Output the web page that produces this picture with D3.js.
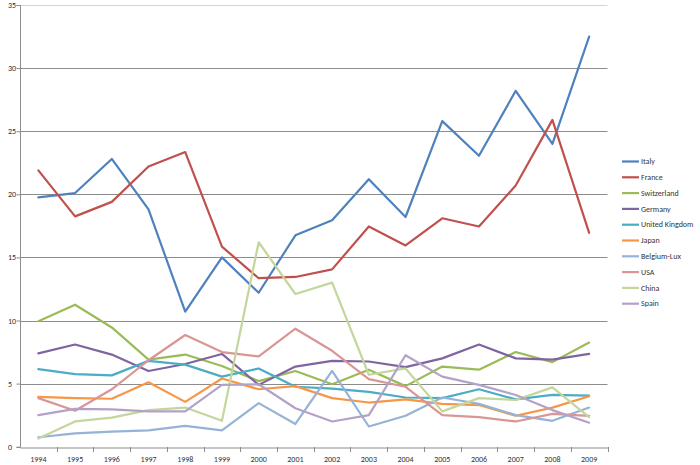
<!DOCTYPE html>
<html><head><meta charset="utf-8">
<script src="https://cdn.jsdelivr.net/npm/d3@7"></script>
<style>body{margin:0;background:#fff}svg{display:block}text{font-family:Carlito,"Liberation Sans Narrow","DejaVu Sans Condensed",sans-serif;font-size:8px;fill:#333}</style>
</head><body><svg id="c" width="700" height="465"></svg>
<script>
const years = ["1994","1995","1996","1997","1998","1999","2000","2001","2002","2003","2004","2005","2006","2007","2008","2009"];
const yTicks = [0,5,10,15,20,25,30,35];
const seriesNames = ["Italy","France","Switzerland","Germany","United Kingdom","Japan","Belgium-Lux","USA","China","Spain"];
const colors = ["#4F81BD","#C0504D","#9BBB59","#8064A2","#4BACC6","#F79646","#95B3D7","#D99694","#C3D69B","#B3A2C7"];
const italy       = [19.75,20.1,22.8,18.8,10.7,15.0,12.2,16.75,17.95,21.2,18.2,25.8,23.05,28.2,24.0,32.5];
const france      = [21.9,18.25,19.4,22.2,23.35,15.85,13.35,13.45,14.05,17.45,15.95,18.1,17.45,20.7,25.9,16.95];
const switzerland = [9.95,11.25,9.45,6.9,7.3,6.4,5.2,6.0,4.95,6.1,4.8,6.35,6.1,7.5,6.7,8.25];
const germany     = [7.4,8.1,7.3,6.0,6.55,7.35,4.9,6.35,6.8,6.75,6.3,7.0,8.1,7.0,6.9,7.35];
const uk          = [6.15,5.75,5.65,6.8,6.5,5.55,6.2,4.75,4.6,4.35,3.9,3.85,4.55,3.75,4.1,4.05];
const japan       = [3.95,3.85,3.8,5.1,3.55,5.4,4.55,4.8,3.85,3.5,3.75,3.4,3.3,2.45,3.1,4.0];
const belgium     = [0.75,1.05,1.2,1.3,1.65,1.3,3.45,1.8,6.0,1.6,2.45,3.9,3.4,2.5,2.05,3.1];
const usa         = [3.85,2.85,4.55,6.85,8.85,7.5,7.15,9.35,7.6,5.35,4.75,2.5,2.35,2.0,2.6,2.45];
const china       = [0.65,2.0,2.3,2.9,3.1,2.05,16.2,12.1,13.0,5.7,6.2,2.8,3.85,3.7,4.7,2.35];
const spain       = [2.5,3.0,2.95,2.8,2.8,4.9,4.95,3.05,2.0,2.5,7.25,5.55,4.9,4.1,2.9,1.9];
const allSeries = [italy,france,switzerland,germany,uk,japan,belgium,usa,china,spain];

const svg = d3.select("#c");
const x = d3.scaleBand().domain(years).range([20,607.5]);
const y = d3.scaleLinear().domain([0,35]).range([446.7,5]);

// gridlines
svg.append("g").selectAll("line").data(yTicks.filter(t=>t>0)).join("line")
  .attr("x1",20).attr("x2",607.5)
  .attr("y1",d=>Math.round(y(d))+0.5).attr("y2",d=>Math.round(y(d))+0.5)
  .attr("stroke",d=>d===35?"#d4d4d4":"#8c8c8c").attr("stroke-width",1);

// y axis
const ya = svg.append("g").attr("transform","translate(20.5,0)")
  .call(d3.axisLeft(y).tickValues(yTicks).tickSize(4).tickPadding(3));
ya.select(".domain").attr("stroke","#8c8c8c").attr("d","M-4,"+(Math.round(y(35))+0.5)+"H0V"+(Math.round(y(0))+0.5)+"H-4");
ya.selectAll(".tick line").attr("stroke","#8c8c8c");
ya.selectAll(".tick text").attr("text-anchor","start").attr("x",-12.5).style("font-family",null).style("font-size",null).attr("fill","#333");
ya.attr("font-family",null).attr("font-size",null);

// x axis
const xa = svg.append("g").attr("transform","translate(0,"+(Math.round(y(0))+0.5)+")")
  .call(d3.axisBottom(x).tickSize(0).tickPadding(9));
xa.select(".domain").attr("stroke","#8c8c8c");
xa.attr("font-family",null).attr("font-size",null);
xa.selectAll(".tick text").attr("fill","#333");
svg.append("g").selectAll("line").data(years.slice(1).concat(["end"])).join("line")
  .attr("x1",(d,i)=>Math.round(20+x.bandwidth()*(i+1))+0.5)
  .attr("x2",(d,i)=>Math.round(20+x.bandwidth()*(i+1))+0.5)
  .attr("y1",Math.round(y(0))).attr("y2",Math.round(y(0))+5)
  .attr("stroke","#8c8c8c");

// lines
const line = d3.line().x((d,i)=>x(years[i])+x.bandwidth()/2).y(d=>y(d));
svg.append("g").selectAll("path").data(allSeries).join("path")
  .attr("d",line).attr("fill","none")
  .attr("stroke",(d,i)=>colors[i]).attr("stroke-width",2.2)
  .attr("stroke-linejoin","round").attr("stroke-linecap","round");

// legend
const lg = svg.append("g").selectAll("g").data(seriesNames).join("g")
  .attr("transform",(d,i)=>"translate(0,"+(161.5+i*15.8)+")");
lg.append("line").attr("x1",622).attr("x2",639).attr("stroke",(d,i)=>colors[i]).attr("stroke-width",2.2);
lg.append("text").attr("x",641).attr("dy","0.33em").text(d=>d);
</script></body></html>
